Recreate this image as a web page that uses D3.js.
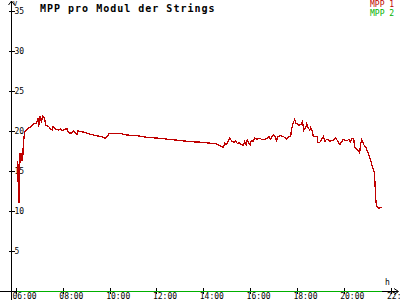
<!DOCTYPE html>
<html><head><meta charset="utf-8">
<script src="https://cdn.jsdelivr.net/npm/d3@7"></script>
<style>body{margin:0;background:#fff}svg{display:block}text{font-family:"DejaVu Sans Mono",monospace}</style>
</head><body><div id="c"></div>
<script>
const title = "MPP pro Modul der Strings";
const seriesNames = ["MPP 1", "MPP 2"];
const seriesColors = ["#c00000", "#00b000"];
const yTicks = [5, 10, 15, 20, 25, 30, 35];
const xTickLabels = ["06:00","08:00","10:00","12:00","14:00","16:00","18:00","20:00","22:00"];
const times1 = ["06:03","06:04","06:05","06:06","06:07","06:09","06:10","06:12","06:14","06:17","06:18","06:20","06:22","06:27","06:37","06:46","06:53","06:56","06:58","07:01","07:05","07:09","07:13","07:16","07:23","07:28","07:33","07:35","07:41","07:50","07:54","07:58","08:07","08:11","08:15","08:22","08:27","08:33","08:37","08:39","08:50","09:03","09:19","09:37","09:45","09:49","09:54","09:58","10:28","10:45","11:11","11:36","12:06","12:32","13:02","13:27","13:53","14:23","14:29","14:40","14:46","14:51","14:55","15:00","15:03","15:08","15:14","15:19","15:23","15:27","15:32","15:36","15:43","15:46","15:50","15:53","15:57","16:00","16:03","16:08","16:12","16:18","16:25","16:31","16:37","16:44","16:48","16:53","16:57","17:01","17:05","17:08","17:12","17:18","17:26","17:33","17:40","17:44","17:46","17:50","17:54","17:58","18:05","18:10","18:14","18:18","18:23","18:25","18:28","18:33","18:35","18:40","18:42","18:48","18:52","18:54","18:59","19:03","19:08","19:12","19:16","19:21","19:24","19:29","19:33","19:39","19:45","19:50","19:55","19:59","20:05","20:09","20:13","20:17","20:22","20:26","20:28","20:33","20:37","20:41","20:43","20:46","20:49","20:52","20:56","21:00","21:03","21:07","21:11","21:15","21:19","21:22","21:24","21:28","21:32","21:34","21:37"];
const mpp1 = [16.3,14.3,15.9,11.6,11.0,11.4,17.2,16.0,17.2,16.2,17.6,18.9,19.8,20.2,20.5,20.9,21.0,21.6,20.5,21.9,21.2,21.9,21.6,20.75,20.6,20.3,20.1,20.6,20.25,20.1,20.3,20.0,20.25,20.25,19.8,19.7,20.0,19.7,19.6,20.0,19.9,19.7,19.5,19.3,19.2,19.1,19.3,19.7,19.67,19.5,19.4,19.2,19.1,18.96,18.8,18.67,18.6,18.46,18.46,18.25,18.04,17.96,18.46,18.3,18.6,19.1,18.67,18.6,18.75,18.46,18.5,18.3,18.25,18.67,18.25,18.9,18.46,18.25,18.8,18.7,19.1,18.96,19.1,18.9,18.96,19.1,19.3,18.96,19.4,19.5,19.2,18.8,19.3,19.4,19.3,19.0,19.3,19.3,20.1,20.96,21.4,20.96,20.75,20.8,21.2,20.1,20.5,20.9,20.5,20.1,20.46,19.9,19.3,19.3,19.3,18.6,18.6,18.96,19.3,18.67,18.96,18.96,18.67,18.8,18.8,19.1,18.75,18.3,18.67,18.96,18.8,18.8,18.96,18.67,19.1,18.96,18.04,17.7,17.6,17.3,18.25,18.96,18.67,18.25,18.04,17.6,17.2,16.6,16.0,15.3,14.7,11.6,10.6,10.46,10.3,10.46,10.5];
const times2 = ["06:03","21:37"];
const mpp2 = [0, 0];

const W = 400, H = 300;
const parse = d3.timeParse("%H:%M");
const svg = d3.select("#c").append("svg").attr("width", W).attr("height", H);

const x = d3.scaleTime().domain([parse("06:00"), parse("22:00")]).range([16, 390.5]);
const y = d3.scaleLinear().domain([0, 35]).range([291, 11]);

// axes lines
const ax = svg.append("g").attr("stroke", "#000").attr("fill", "none").attr("shape-rendering", "crispEdges");
ax.append("line").attr("x1", 11.5).attr("x2", 11.5).attr("y1", 1).attr("y2", 300);
ax.append("line").attr("x1", 0).attr("x2", 398).attr("y1", 291.5).attr("y2", 291.5);
ax.append("path").attr("d", "M8.5,5 L11.5,1 L14.5,5").attr("shape-rendering", "auto");
ax.append("path").attr("d", "M394,288.5 L398.5,291.5 L394,294.5").attr("shape-rendering", "auto");

// y ticks
const yAxis = d3.axisRight(y).tickValues(yTicks).tickSize(0).tickPadding(3);
const gy = svg.append("g").attr("transform", "translate(11.5,0)").call(yAxis);
gy.select(".domain").remove();
gy.selectAll(".tick text").attr("font-family", "DejaVu Sans Mono").attr("font-size", 8).attr("fill", "#000");
gy.selectAll(".tick").append("line").attr("x1", -3).attr("x2", 3).attr("stroke", "#000").attr("shape-rendering", "crispEdges");
svg.append("text").attr("x", 13).attr("y", 6).attr("font-size", 7).text("V");

// x ticks
const xAxis = d3.axisBottom(x).tickValues(xTickLabels.map(parse)).tickSize(0).tickFormat((d, i) => xTickLabels[i]);
const gx = svg.append("g").attr("transform", "translate(0,291.5)").call(xAxis);
gx.select(".domain").remove();
gx.selectAll(".tick text").attr("font-family", "DejaVu Sans Mono").attr("font-size", 8).attr("fill", "#000")
  .attr("text-anchor", "start").attr("x", -4).attr("y", 2).attr("dy", "0.71em");
gx.selectAll(".tick").append("line").attr("y1", -3.5).attr("y2", 2.5).attr("stroke", "#000").attr("shape-rendering", "crispEdges");
svg.append("text").attr("x", 385).attr("y", 285).attr("font-size", 8).text("h");

// series
const line = d3.line().x(d => x(d[0])).y(d => y(d[1]));
const s2 = times2.map((t, i) => [parse(t), mpp2[i]]);
svg.append("path").datum(s2).attr("d", line).attr("fill", "none").attr("stroke", seriesColors[1]).attr("stroke-width", 1).attr("shape-rendering", "crispEdges");
const s1 = times1.map((t, i) => [parse(t), mpp1[i]]);
svg.append("path").datum(s1).attr("d", line).attr("fill", "none").attr("stroke", seriesColors[0]).attr("stroke-width", 1.3).attr("shape-rendering", "crispEdges");

// title
svg.append("text").attr("x", 40).attr("y", 11.5).attr("font-size", 10).attr("font-weight", "bold")
  .attr("letter-spacing", 1).text(title);

// legend
seriesNames.forEach((n, i) => {
  svg.append("text").attr("x", 370).attr("y", 7 + i * 9).attr("font-size", 8).attr("fill", seriesColors[i]).text(n);
});
</script></body></html>
